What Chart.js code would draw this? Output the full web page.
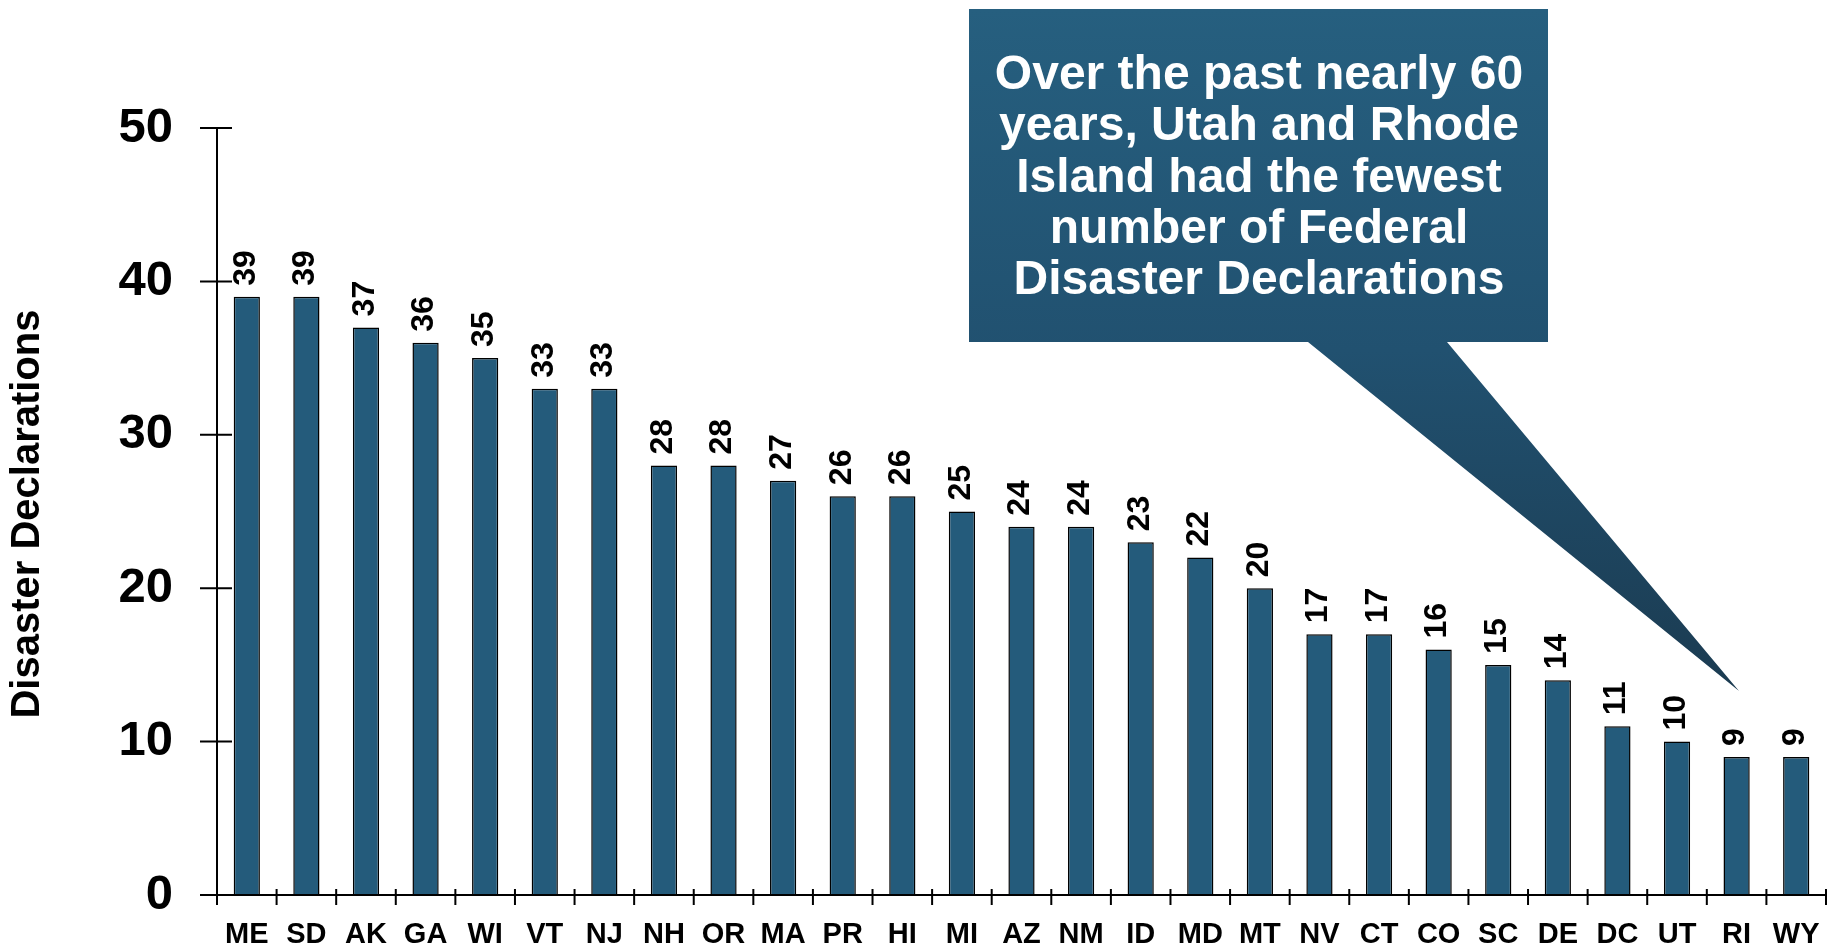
<!DOCTYPE html>
<html>
<head>
<meta charset="utf-8">
<script src="https://cdn.jsdelivr.net/npm/chart.js@4/dist/chart.umd.min.js"></script>
<style>
  html, body { margin: 0; padding: 0; background: #fff; overflow: hidden; }
  #wrap { width: 1833px; height: 952px; position: relative; }
  canvas { display: block; }
</style>
</head>
<body>
<div id="wrap"><canvas id="c" width="1833" height="952"></canvas></div>
<script>
const states = ["ME","SD","AK","GA","WI","VT","NJ","NH","OR","MA","PR","HI","MI","AZ","NM","ID","MD","MT","NV","CT","CO","SC","DE","DC","UT","RI","WY"];
const declarations = [39,39,37,36,35,33,33,28,28,27,26,26,25,24,24,23,22,20,17,17,16,15,14,11,10,9,9];
const yTicks = [0,10,20,30,40,50];
const yTitle = "Disaster Declarations";
const calloutLines = ["Over the past nearly 60","years, Utah and Rhode","Island had the fewest","number of Federal","Disaster Declarations"];

const FONT = '"Liberation Sans", Arial, Helvetica, sans-serif';
const BAR = '#245b7b';
const CLEAR = 'rgba(0,0,0,0)';

const decorPlugin = {
  id: 'decor',
  afterDatasetsDraw(chart) {
    const ctx = chart.ctx;
    const xs = chart.scales.x, ys = chart.scales.y;
    const left = chart.chartArea.left, right = chart.chartArea.right;
    const y0 = ys.getPixelForValue(0);
    const yTop = ys.getPixelForValue(50);
    ctx.save();
    ctx.strokeStyle = '#000';
    ctx.lineWidth = 2;
    ctx.beginPath();
    ctx.moveTo(left, yTop); ctx.lineTo(left, y0);
    ctx.moveTo(left, y0); ctx.lineTo(right, y0);
    ctx.stroke();
    ctx.beginPath();
    yTicks.forEach(v => {
      const p = ys.getPixelForValue(v);
      ctx.moveTo(left - 17, p); ctx.lineTo(left + 15, p);
    });
    const n = states.length;
    for (let i = 0; i <= n; i++) {
      let px;
      if (i === 0) px = left;
      else if (i === n) px = right;
      else px = (xs.getPixelForValue(i - 1) + xs.getPixelForValue(i)) / 2;
      ctx.moveTo(px, y0 - 6); ctx.lineTo(px, y0 + 10);
    }
    ctx.stroke();

    const meta = chart.getDatasetMeta(0);
    ctx.fillStyle = '#000';
    ctx.font = 'bold 32px ' + FONT;
    ctx.textAlign = 'left';
    ctx.textBaseline = 'middle';
    meta.data.forEach((bar, i) => {
      ctx.save();
      ctx.translate(bar.x - 1, bar.y - 11);
      ctx.rotate(-Math.PI / 2);
      ctx.fillText(String(declarations[i]), 0, 0);
      ctx.restore();
    });

    ctx.save();
    ctx.font = 'bold 40px ' + FONT;
    ctx.textAlign = 'center';
    ctx.textBaseline = 'middle';
    ctx.translate(28, 514);
    ctx.rotate(-Math.PI / 2);
    ctx.fillText(yTitle, 0, 0);
    ctx.restore();

    const g = ctx.createLinearGradient(0, 9, 0, 691);
    g.addColorStop(0, '#265f7f');
    g.addColorStop(0.5, '#215170');
    g.addColorStop(1, '#1b3b51');
    ctx.fillStyle = g;
    ctx.beginPath();
    ctx.moveTo(969, 9);
    ctx.lineTo(1548, 9);
    ctx.lineTo(1548, 342);
    ctx.lineTo(1447, 342);
    ctx.lineTo(1739, 691);
    ctx.lineTo(1308, 342);
    ctx.lineTo(969, 342);
    ctx.closePath();
    ctx.fill();
    ctx.fillStyle = '#fff';
    ctx.font = 'bold 48px ' + FONT;
    ctx.textAlign = 'center';
    ctx.textBaseline = 'alphabetic';
    calloutLines.forEach((t, i) => {
      ctx.fillText(t, 1259, 89 + i * 51.3);
    });
    ctx.restore();
  }
};

new Chart(document.getElementById('c'), {
  type: 'bar',
  data: {
    labels: states,
    datasets: [{
      data: declarations,
      backgroundColor: BAR,
      borderColor: '#000',
      borderWidth: 1.5,
      borderSkipped: 'bottom',
      barPercentage: 0.44,
      categoryPercentage: 1.0
    }]
  },
  options: {
    responsive: false,
    animation: false,
    devicePixelRatio: 1,
    layout: { padding: { top: 128, right: 7, left: 0, bottom: 0 } },
    plugins: { legend: { display: false }, tooltip: { enabled: false }, title: { display: false } },
    scales: {
      x: {
        offset: true,
        grid: { display: true, drawOnChartArea: false, drawTicks: true, tickLength: 23, color: CLEAR },
        border: { display: false },
        ticks: {
          color: '#000',
          font: { family: FONT, size: 29, weight: 'bold' },
          padding: 0,
          maxRotation: 0,
          autoSkip: false
        },
        afterFit(s) { s.height = 57; }
      },
      y: {
        min: 0, max: 50,
        grid: { display: true, drawOnChartArea: false, drawTicks: true, tickLength: 44, color: CLEAR },
        border: { display: false },
        ticks: {
          stepSize: 10,
          color: '#000',
          font: { family: FONT, size: 49, weight: 'bold' },
          padding: 0
        },
        afterFit(s) { s.width = 217; }
      }
    }
  },
  plugins: [decorPlugin]
});
</script>
</body>
</html>
